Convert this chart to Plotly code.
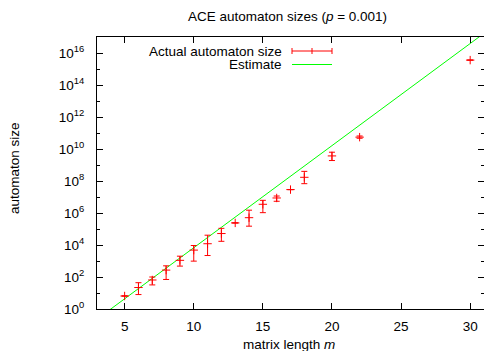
import plotly.graph_objects as go

# ---- data ----
m_vals = [5, 6, 7, 8, 9, 10, 11, 12, 13, 14, 15, 16, 17, 18, 20, 22, 30]
size_mid = [6.5, 22, 65, 270, 1100, 4800, 12000, 52000, 2.4e5, 5.1e5, 3.5e6, 8.7e6, 2.9e7, 1.7e8, 3.7e9, 5.5e10, 3.6e15]
size_high = [6.5, 44, 100, 500, 2000, 9300, 41000, 1.1e5, 2.4e5, 1.5e6, 6.2e6, 1.15e7, 2.9e7, 4.0e8, 6.3e9, 6.5e10, 3.6e15]
size_low = [6.5, 8, 32, 70, 480, 980, 2200, 17000, 2.4e5, 1.5e5, 1.05e6, 5.4e6, 2.9e7, 6.8e7, 1.9e9, 4.7e10, 3.6e15]

est_m = [3, 4, 10, 20, 30, 31]
est_size = [0.23, 1.0, 6800, 1.6e10, 4.0e16, 1.7e17]

ytick_exps = [0, 2, 4, 6, 8, 10, 12, 14, 16]
yminor_exps = [1, 3, 5, 7, 9, 11, 13, 15, 17]
xtick_vals = [5, 10, 15, 20, 25, 30]

title_text = "ACE automaton sizes (<i>p</i> = 0.001)"
xlabel = "matrix length <i>m</i>"
ylabel = "automaton size"
legend_labels = ["Actual automaton size", "Estimate"]

FONT = "Liberation Sans, Arial, sans-serif"
FS = 13.5
RED = "#ff0000"
GREEN = "#00ff00"

err_plus = [h - c for h, c in zip(size_high, size_mid)]
err_minus = [c - l for c, l in zip(size_mid, size_low)]

fig = go.Figure()
fig.add_trace(go.Scatter(
    x=est_m, y=est_size, mode="lines",
    line=dict(color=GREEN, width=1), showlegend=False, hoverinfo="skip"))
fig.add_trace(go.Scatter(
    x=m_vals, y=size_mid, mode="markers",
    marker=dict(symbol="cross-thin", size=6, line=dict(color=RED, width=1), color=RED),
    error_y=dict(type="data", symmetric=False, array=err_plus, arrayminus=err_minus,
                 color=RED, thickness=1, width=3),
    showlegend=False))

L, R, T, B = 97, 0, 37, 42
W, H = 484, 351
pw, ph = W - L - R, H - T - B

def px(xp):
    return (xp - L) / pw

def py(yp):
    return (H - B - yp) / ph

# manual gnuplot-style legend
ann = []
shapes = []
ann.append(dict(x=px(284), y=py(51), xref="paper", yref="paper", text=legend_labels[0],
                showarrow=False, xanchor="right", yanchor="middle",
                font=dict(family=FONT, size=FS, color="black")))
ann.append(dict(x=px(284), y=py(64.5), xref="paper", yref="paper", text=legend_labels[1],
                showarrow=False, xanchor="right", yanchor="middle",
                font=dict(family=FONT, size=FS, color="black")))
shapes.append(dict(type="line", xref="paper", yref="paper", x0=px(292), x1=px(332),
                   y0=py(51), y1=py(51), line=dict(color=RED, width=1)))
for xx in (292, 312, 332):
    shapes.append(dict(type="line", xref="paper", yref="paper", x0=px(xx), x1=px(xx),
                       y0=py(48), y1=py(54), line=dict(color=RED, width=1)))
shapes.append(dict(type="line", xref="paper", yref="paper", x0=px(292), x1=px(332),
                   y0=py(64.5), y1=py(64.5), line=dict(color=GREEN, width=1.2)))

# axis titles
ann.append(dict(x=px(289), y=py(344), xref="paper", yref="paper", text=xlabel,
                showarrow=False, xanchor="center", yanchor="middle",
                font=dict(family=FONT, size=FS, color="black")))
ann.append(dict(x=px(14), y=py(168), xref="paper", yref="paper", text=ylabel,
                showarrow=False, xanchor="center", yanchor="middle", textangle=-90,
                font=dict(family=FONT, size=FS, color="black")))

fig.update_layout(
    width=W, height=H,
    margin=dict(l=L, r=R, t=T, b=B, pad=0),
    paper_bgcolor="white", plot_bgcolor="white",
    font=dict(family=FONT, size=FS, color="black"),
    title=dict(text=title_text, x=(287.5) / W, xanchor="center", y=1 - 16 / H, yanchor="middle",
               font=dict(family=FONT, size=FS, color="black")),
    annotations=ann, shapes=shapes, showlegend=False,
    xaxis=dict(range=[3, 31], tickvals=xtick_vals, ticktext=[str(v) for v in xtick_vals],
               ticks="inside", ticklen=6, tickcolor="black", tickwidth=1,
               showline=True, linecolor="black", linewidth=1, mirror="ticks",
               showgrid=False, zeroline=False, ticklabelstandoff=5,
               tickfont=dict(family=FONT, size=FS)),
    yaxis=dict(type="log", range=[0, 17],
               tickvals=[10 ** e for e in ytick_exps],
               ticktext=["10<sup>%d</sup>" % e for e in ytick_exps],
               ticks="inside", ticklen=6, tickcolor="black", tickwidth=1,
               minor=dict(tickvals=[10 ** e for e in yminor_exps], ticks="inside",
                          ticklen=3, tickcolor="black", showgrid=False),
               showline=True, linecolor="black", linewidth=1, mirror="ticks",
               showgrid=False, zeroline=False, ticklabelstandoff=9,
               tickfont=dict(family=FONT, size=FS)),
)

fig.write_html("out.html", config={"displayModeBar": False},
               post_script="document.body.style.margin='0px';document.body.style.overflow='hidden';")
